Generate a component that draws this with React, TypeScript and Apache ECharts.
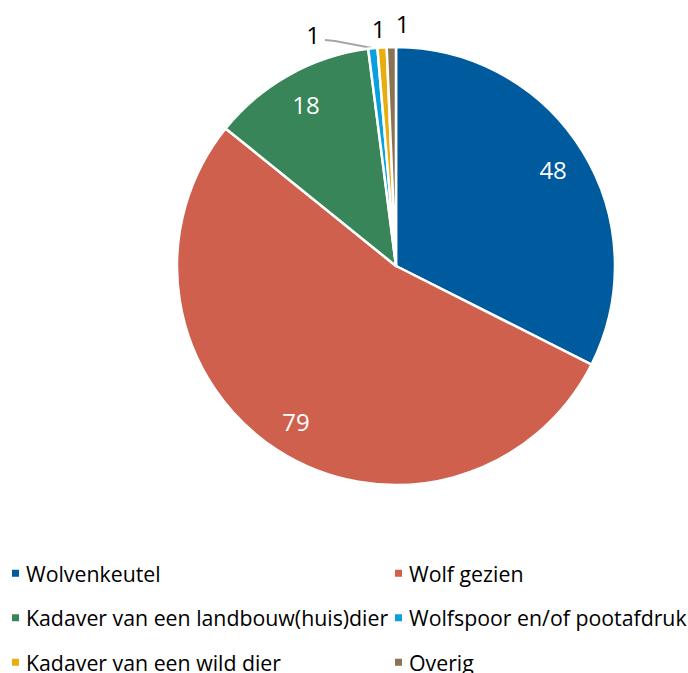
import React, { useEffect, useRef } from "react";
import * as echarts from "echarts";

const categories = [
  "Wolvenkeutel",
  "Wolf gezien",
  "Kadaver van een landbouw(huis)dier",
  "Wolfspoor en/of pootafdruk",
  "Kadaver van een wild dier",
  "Overig",
];
const values = [48, 79, 18, 1, 1, 1];
const colors = ["#005A9E", "#CF604D", "#378558", "#0AA0E0", "#E8AE0E", "#8A7252"];

const FONT = "'Open Sans', Lato, sans-serif";
const CX = 396;
const CY = 266;
const R = 219;

export default function App() {
  const ref = useRef<HTMLDivElement>(null);
  useEffect(() => {
    document.body.style.margin = "0";
    const chart = echarts.init(ref.current!, null, { renderer: "svg" });
    const total = values.reduce((a, b) => a + b, 0);
    const smallIdx = values.map((v, i) => (v / total < 0.05 ? i : -1)).filter((i) => i >= 0);

    const baseData = categories.map((name, i) => ({
      name,
      value: values[i],
      itemStyle: { color: colors[i] },
      label: { show: smallIdx.includes(i) },
      labelLine: { show: i === smallIdx[0] },
    }));
    const labelData = categories.map((name, i) => ({
      name,
      value: values[i],
      label: { show: !smallIdx.includes(i) },
    }));

    const legendBase = {
      top: 556,
      height: 200,
      padding: 0,
      orient: "vertical",
      icon: "rect",
      itemWidth: 9,
      itemHeight: 9,
      itemGap: 10,
      selectedMode: false,
      textStyle: {
        fontFamily: FONT,
        fontSize: 21.3,
        color: "#000",
        lineHeight: 34.5,
        padding: [0, 0, 0, 1],
      },
    };

    chart.setOption({
      animation: false,
      legend: [
        { ...legendBase, left: 10, data: categories.filter((_, i) => i % 2 === 0) },
        { ...legendBase, left: 393, data: categories.filter((_, i) => i % 2 === 1) },
      ],
      series: [
        {
          type: "pie",
          center: [CX, CY],
          radius: [0, R],
          startAngle: 90,
          clockwise: true,
          silent: true,
          itemStyle: { borderColor: "#fff", borderWidth: 2.5 },
          label: {
            position: "outside",
            fontFamily: FONT,
            fontSize: 24,
            color: "#000",
            formatter: "{c}",
          },
          labelLine: {
            lineStyle: { color: "#A6A6A6", width: 2 },
          },
          labelLayout: (p: any) => {
            const k = smallIdx.indexOf(p.dataIndex);
            if (k === 0) {
              return {
                x: CX - 83,
                y: CY - 232,
                align: "center",
                verticalAlign: "middle",
                labelLinePoints: [
                  [CX - 24, CY - 218],
                  [CX - 61, CY - 225],
                  [CX - 71, CY - 226],
                ],
              };
            }
            if (k === 1) {
              return { x: CX - 17.5, y: CY - 237.5, align: "center", verticalAlign: "middle" };
            }
            if (k === 2) {
              return { x: CX + 6.5, y: CY - 242.5, align: "center", verticalAlign: "middle" };
            }
            return {};
          },
          data: baseData,
        },
        {
          type: "pie",
          center: [CX, CY],
          radius: [144, R],
          startAngle: 90,
          clockwise: true,
          silent: true,
          itemStyle: { color: "rgba(0,0,0,0)", borderWidth: 0 },
          label: {
            position: "inside",
            fontFamily: FONT,
            fontSize: 24,
            color: "#fff",
            formatter: "{c}",
          },
          labelLine: { show: false },
          data: labelData,
        },
      ],
    });
    return () => chart.dispose();
  }, []);
  return <div ref={ref} style={{ width: 688, height: 673 }} />;
}
